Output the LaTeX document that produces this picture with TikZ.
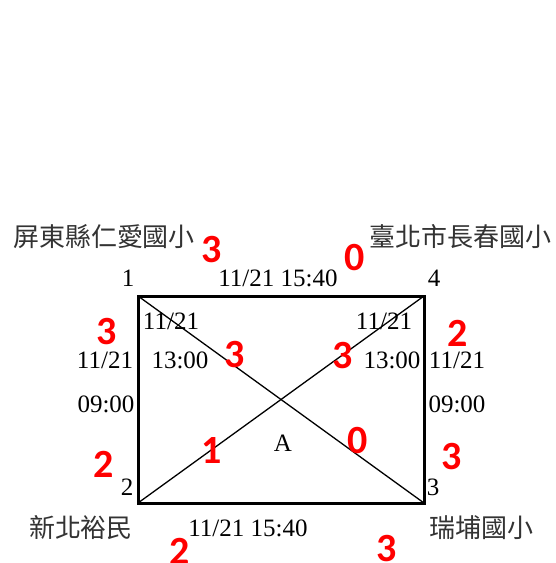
\documentclass[tikz,border=0pt]{standalone}
\usepackage{fontspec}
\setmainfont{Liberation Serif}
\newfontfamily\cjk{Noto Sans CJK TC}
\newfontfamily\cntfont{Carlito}[BoldFont={Carlito Bold}]
\usetikzlibrary{positioning}

\tikzset{
  lbl/.style={inner sep=0pt, font=\fontsize{25}{25}\selectfont},
  school/.style={inner sep=0pt, font=\cjk\fontsize{26}{26}\selectfont, text=black!80},
  cnt/.style={inner sep=0pt, text=red, font=\cntfont\bfseries\fontsize{40}{40}\selectfont},
  side/.style={line width=3pt},
  diag/.style={line width=1.3pt}
}

\begin{document}
\begin{tikzpicture}[x=1pt,y=-1pt]
  \useasboundingbox (0,0) rectangle (555,563);

  % corners of the box
  \coordinate (c1) at (138,296);
  \coordinate (c2) at (138,503);
  \coordinate (c3) at (424,503);
  \coordinate (c4) at (424,296);

  % box and diagonals
  \draw[side] (c1) -- (c2) -- (c3) -- (c4) -- cycle;
  \draw[diag] (c1) -- (c3);
  \draw[diag] (c2) -- (c4);

  % corner numbers
  \foreach \i/\x/\y in {1/128/278, 4/434/278, 2/127/487, 3/433/487} {
    \node[lbl] (num\i) at (\x,\y) {\i};
  }

  % school names
  \node[school] (pingtung) at (104,237) {屏東縣仁愛國小};
  \node[school] (taipei) at (460,237) {臺北市長春國小};
  \node[school] (xinbei) at (81,528) {新北裕民};
  \node[school] (ruipu) at (481,528) {瑞埔國小};

  % dates and times
  \node[lbl] (toptime) at (278,278) {11/21 15:40};
  \node[lbl] (bottime) at (248,528) {11/21 15:40};
  \node[lbl] (indateL) at (171,321) {11/21};
  \node[lbl] (intimeL) at (180,360) {13:00};
  \node[lbl] (indateR) at (384,321) {11/21};
  \node[lbl] (intimeR) at (392,360) {13:00};
  \node[lbl] (outdateL) at (105,360) {11/21};
  \node[lbl] (outtimeL) at (106,404) {09:00};
  \node[lbl] (outdateR) at (457,360) {11/21};
  \node[lbl] (outtimeR) at (457,404) {09:00};
  \node[lbl] (centre) at (283,443) {A};

  % red counts
  \node[cnt] (n13) at (212,250) {3};
  \node[cnt] (n14) at (355,258) {0};
  \node[cnt] (n12) at (107,332) {3};
  \node[cnt] (n43) at (458,333) {2};
  \node[cnt] (d13a) at (235,355) {3};
  \node[cnt] (d24a) at (343,356) {3};
  \node[cnt] (d24b) at (212,451) {1};
  \node[cnt] (d13b) at (358,441) {0};
  \node[cnt] (n34) at (452,457) {3};
  \node[cnt] (n21) at (104,464) {2};
  \node[cnt] (n23) at (180,551) {2};
  \node[cnt] (n32) at (387,549) {3};
\end{tikzpicture}
\end{document}
